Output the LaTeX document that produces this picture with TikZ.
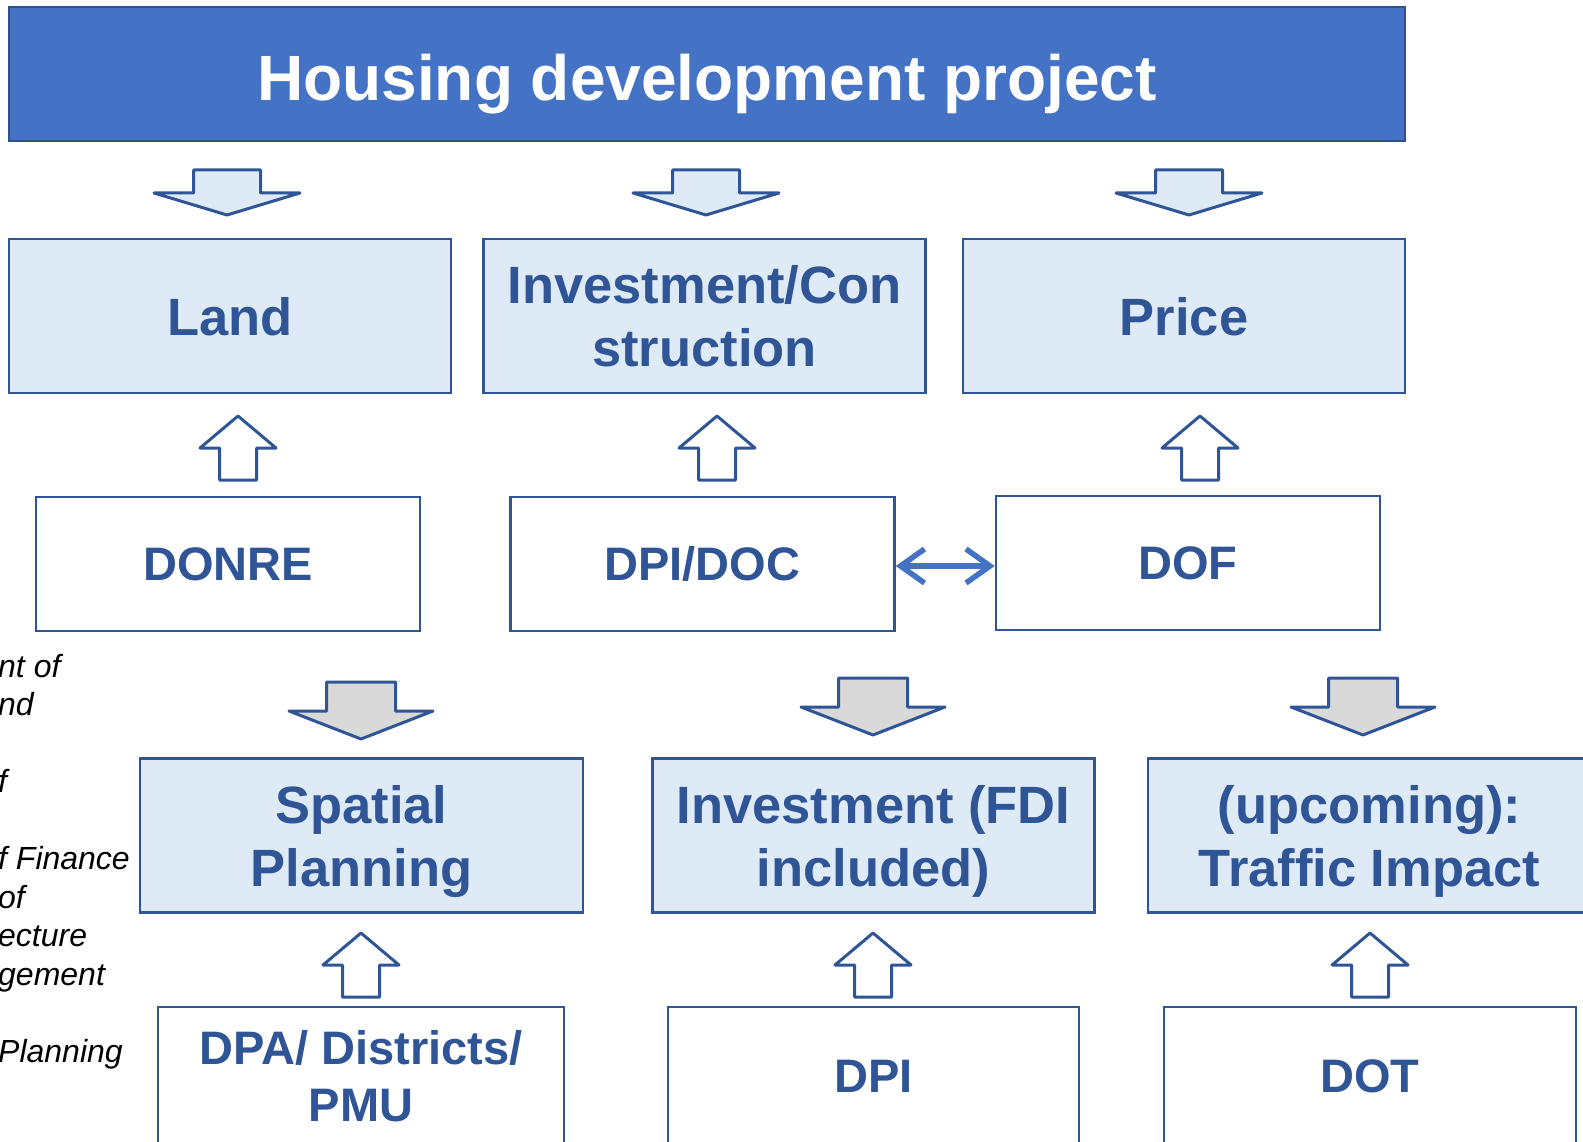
\documentclass[tikz,border=0pt]{standalone}
\usepackage{fontspec}
\setmainfont{Liberation Sans}
\usetikzlibrary{arrows.meta, calc}

\definecolor{headblue}{HTML}{4472C4}
\definecolor{headline}{HTML}{2F528F}
\definecolor{lineblue}{HTML}{2F5597}
\definecolor{paleblue}{HTML}{DEEBF7}
\definecolor{arrowgray}{HTML}{D9D9D9}

\tikzset{
  header/.style={draw=headline, line width=2.5pt, fill=headblue, text=white, inner sep=0pt,
    text height=54pt, text depth=0pt, font=\fontsize{64}{76}\selectfont\bfseries},
  topic/.style={draw=lineblue, line width=2.5pt, fill=paleblue, text=lineblue, inner sep=0pt,
    align=center, text depth=0pt, minimum width=442pt, minimum height=154pt,
    font=\fontsize{52.5}{63}\selectfont\bfseries},
  office/.style={draw=lineblue, line width=2.5pt, fill=white, text=lineblue, inner sep=0pt,
    align=center, minimum width=384pt, minimum height=134pt, font=\fontsize{47}{57}\selectfont\bfseries},
  sidenote/.style={inner sep=0pt, align=left, font=\fontsize{32}{38.5}\selectfont\itshape},
  blockline/.style={draw=lineblue, line width=3pt, line join=round},
  twoway/.style={draw=headblue, line width=5.5pt, line cap=round,
    {Straight Barb[length=24pt,width=34pt]}-{Straight Barb[length=24pt,width=34pt]}},
  downblock/.pic={
    \path[pic actions] (-33.5,0) -- (33.5,0) -- (33.5,23) -- (73,23) -- (0,45)
      -- (-73,23) -- (-33.5,23) -- cycle;
  },
  graydown/.pic={
    \path[pic actions] (-34.5,0) -- (34.5,0) -- (34.5,29) -- (72,29) -- (0,57)
      -- (-72,29) -- (-34.5,29) -- cycle;
  },
  upblock/.pic={
    \path[pic actions] (0,0) -- (38,32) -- (18.5,32) -- (18.5,64) -- (-18.5,64)
      -- (-18.5,32) -- (-38,32) -- cycle;
  },
}

\begin{document}
\begin{tikzpicture}[x=1pt, y=-1pt]
  \useasboundingbox (0,0) rectangle (1583,1142);

  % title
  \node[header, minimum width=1396pt, minimum height=134pt] (housing) at (707,74) {Housing development project};

  % first row
  \node[topic] (land) at (230,316) {Land};
  \node[topic] (invest) at (704.5,316) {Investment/Con\\struction};
  \node[topic] (price) at (1184,316) {Price};

  % offices
  \node[office] (donre) at (228,564) {DONRE};
  \node[office] (dpidoc) at (702.5,564) {DPI/DOC};
  \node[office] (dof) at (1188,563) {DOF};

  % third row
  \node[topic, minimum width=443pt] (spatial) at (361.5,835.5) {Spatial\\Planning};
  \node[topic] (fdi) at (873.5,835.5) {Investment (FDI\\included)};
  \node[topic, minimum width=443pt] (traffic) at (1369.5,835.5) {(upcoming):\\Traffic Impact};

  % bottom offices
  \node[office, minimum width=406pt, minimum height=138pt] (dpa) at (361,1076) {DPA/ Districts/\\PMU};
  \node[office, minimum width=411pt, minimum height=138pt] (dpi) at (873.5,1076) {DPI};
  \node[office, minimum width=412pt, minimum height=138pt] (dot) at (1370,1076) {DOT};

  % block arrows
  \foreach \cx in {227,706,1189}
    \pic[blockline, fill=paleblue] at (\cx,170) {downblock};
  \foreach \cx in {238,717,1200}
    \pic[blockline, fill=white] at (\cx,416) {upblock};
  \pic[blockline, fill=arrowgray] at (361,682) {graydown};
  \pic[blockline, fill=arrowgray] at (873,678) {graydown};
  \pic[blockline, fill=arrowgray] at (1363,678) {graydown};
  \foreach \cx in {361,873,1370}
    \pic[blockline, fill=white] at (\cx,933) {upblock};

  \draw[twoway] ([yshift=-2pt]dpidoc.east) -- ([yshift=-2pt]dpidoc.east -| dof.west);

  % cut-off notes on the left
  \node[sidenote, anchor=north west] (notes) at (-2,654) {nt of\\nd\\[38.5pt]f\\[38.5pt]f Finance\\of\\ecture\\gement\\[38.5pt]Planning};
\end{tikzpicture}
\end{document}
